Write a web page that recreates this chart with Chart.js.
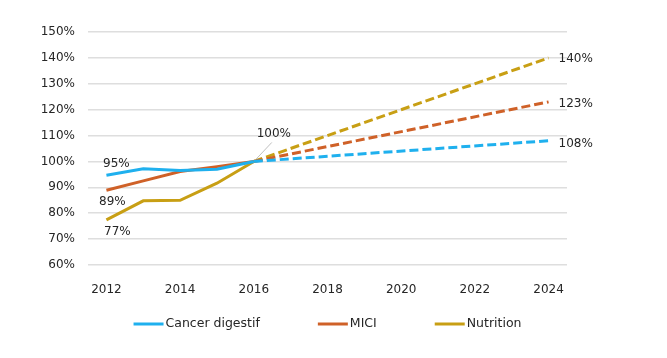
<!DOCTYPE html>
<html>
<head>
<meta charset="utf-8">
<script src="https://cdn.jsdelivr.net/npm/chart.js@4.4.1/dist/chart.umd.min.js"></script>
<style>
  html, body { margin: 0; padding: 0; background: #fff; }
  #wrap { width: 667px; height: 358px; }
</style>
</head>
<body>
<div id="wrap"><canvas id="chart" width="667" height="358"></canvas></div>
<script>
const years = ["2012", "2013", "2014", "2015", "2016", "2017", "2018", "2019", "2020", "2021", "2022", "2023", "2024"];

// observed values (solid lines)
const cancerObs = [94.7, 97.2, 96.5, 97.0, 100, null, null, null, null, null, null, null, null];
const miciObs = [88.9, 92.5, 96.1, 98.0, 100, null, null, null, null, null, null, null, null];
const nutritionObs = [77.4, 84.8, 85.0, 91.6, 100, null, null, null, null, null, null, null, null];

// projections (dashed lines, 2016 -> 2024)
const cancerProj = [null, null, null, null, 100, null, null, null, null, null, null, null, 108];
const miciProj = [null, null, null, null, 100, null, null, null, null, null, null, null, 123];
const nutritionProj = [null, null, null, null, 100, null, null, null, null, null, null, null, 140];

const seriesNames = ["Cancer digestif", "MICI", "Nutrition"];
const seriesColors = ["#1fb0ee", "#cf6128", "#c89f14"];

const textColor = "#262626";
const fontFamily = "'DejaVu Sans', sans-serif";

// which points get a value label: [dataset index, point index, dx, dy, align]
const valueLabels = [
  [0, 0, 10, -11, "center"],
  [1, 0, 6, 12, "center"],
  [2, 0, 11, 12, "center"],
  [2, 4, 20, -28, "center"],
  [5, 12, 10, 1, "left"],
  [4, 12, 10, 2, "left"],
  [3, 12, 10, 3, "left"]
];

const labelPlugin = {
  id: "valueLabels",
  afterDatasetsDraw(chart) {
    const ctx = chart.ctx;
    ctx.save();
    ctx.font = "12px " + fontFamily;
    ctx.fillStyle = textColor;
    ctx.textBaseline = "middle";
    valueLabels.forEach(([di, pi, dx, dy, align]) => {
      const pt = chart.getDatasetMeta(di).data[pi];
      const v = chart.data.datasets[di].data[pi];
      if (di === 2 && pi === 4) {
        // leader line for the 100% label
        ctx.strokeStyle = "#bfbfbf";
        ctx.lineWidth = 1;
        ctx.beginPath();
        ctx.moveTo(pt.x + 2, pt.y - 2);
        ctx.lineTo(pt.x + 18, pt.y - 19);
        ctx.stroke();
      }
      ctx.textAlign = align;
      ctx.fillText(Math.round(v) + "%", pt.x + dx, pt.y + dy);
    });
    ctx.restore();
  }
};

const legendPlugin = {
  id: "lineLegend",
  afterDraw(chart) {
    const ctx = chart.ctx;
    const area = chart.chartArea;
    ctx.save();
    ctx.font = "12.5px " + fontFamily;
    const lineLen = 30, gapText = 2, gapItem = 58;
    const widths = seriesNames.map(n => lineLen + gapText + ctx.measureText(n).width);
    const total = widths.reduce((a, b) => a + b, 0) + gapItem * (seriesNames.length - 1);
    let x = (area.left + area.right) / 2 - total / 2;
    const y = 324;
    seriesNames.forEach((name, i) => {
      ctx.strokeStyle = seriesColors[i];
      ctx.lineWidth = 3;
      ctx.beginPath();
      ctx.moveTo(x, y);
      ctx.lineTo(x + lineLen, y);
      ctx.stroke();
      ctx.fillStyle = textColor;
      ctx.textAlign = "left";
      ctx.textBaseline = "middle";
      ctx.fillText(name, x + lineLen + gapText, y);
      x += widths[i] + gapItem;
    });
    ctx.restore();
  }
};

function solid(label, data, color) {
  return { label, data, borderColor: color, backgroundColor: color, borderWidth: 3,
    pointRadius: 0, tension: 0, fill: false, spanGaps: false };
}
function dashed(label, data, color) {
  return { label, data, borderColor: color, backgroundColor: color, borderWidth: 3,
    borderDash: [9, 4], pointRadius: 0, tension: 0, fill: false, spanGaps: true };
}

new Chart(document.getElementById("chart").getContext("2d"), {
  type: "line",
  data: {
    labels: years,
    datasets: [
      solid(seriesNames[0], cancerObs, seriesColors[0]),
      solid(seriesNames[1], miciObs, seriesColors[1]),
      solid(seriesNames[2], nutritionObs, seriesColors[2]),
      dashed(seriesNames[0] + " proj", cancerProj, seriesColors[0]),
      dashed(seriesNames[1] + " proj", miciProj, seriesColors[1]),
      dashed(seriesNames[2] + " proj", nutritionProj, seriesColors[2])
    ]
  },
  options: {
    responsive: false,
    animation: false,
    layout: { padding: { top: 32, right: 100, bottom: 0, left: 0 } },
    plugins: { legend: { display: false }, tooltip: { enabled: false } },
    scales: {
      x: {
        type: "category",
        offset: true,
        grid: { display: false },
        border: { display: false },
        ticks: {
          autoSkip: false,
          maxRotation: 0,
          padding: 10,
          color: textColor,
          font: { family: fontFamily, size: 12 },
          callback: function (value, index) {
            return index % 2 === 0 ? this.getLabelForValue(value) : "";
          }
        },
        afterFit: s => { s.height = 93; }
      },
      y: {
        min: 60,
        max: 150,
        ticks: {
          stepSize: 10,
          padding: 13,
          color: textColor,
          font: { family: fontFamily, size: 12 },
          callback: v => v + "%"
        },
        grid: { color: "#dedede", lineWidth: 1.5, drawTicks: false },
        border: { display: false },
        afterFit: s => { s.width = 88; }
      }
    }
  },
  plugins: [labelPlugin, legendPlugin]
});
</script>
</body>
</html>
